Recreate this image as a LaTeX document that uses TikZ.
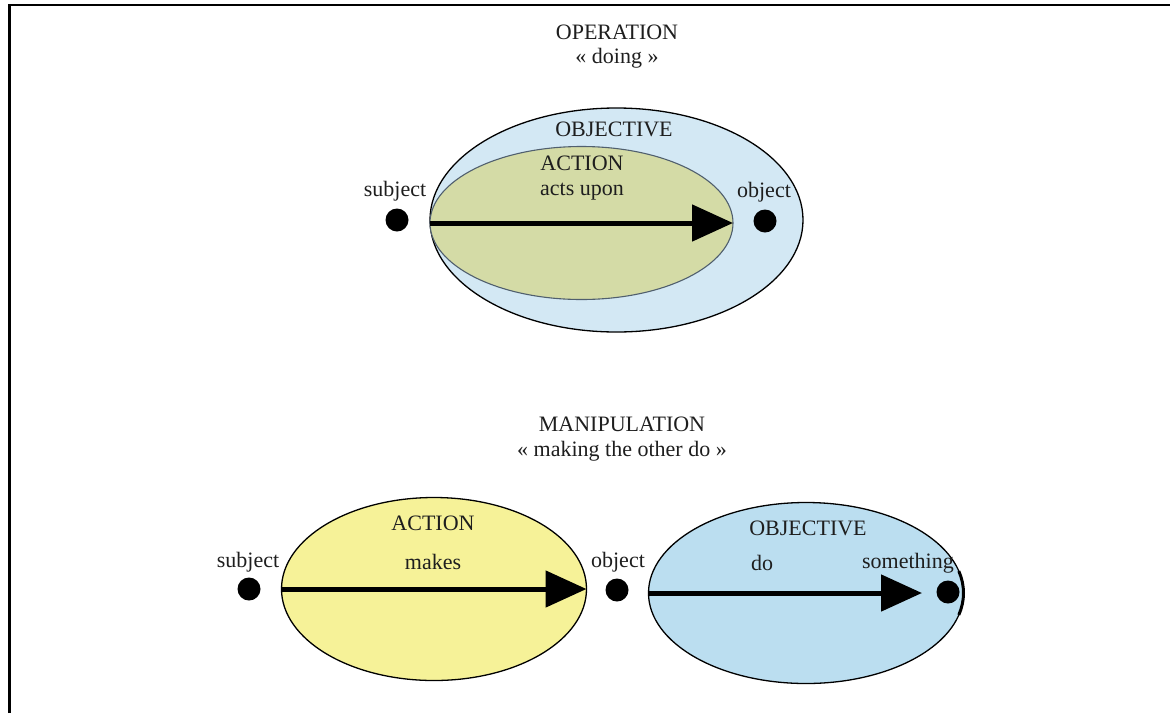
\documentclass[tikz,border=0pt]{standalone}
\usepackage{fontspec}
\setmainfont{Liberation Serif}
\usetikzlibrary{shapes.geometric,arrows.meta}

\definecolor{skyfill}{RGB}{211,232,244}
\definecolor{olivefill}{RGB}{212,219,166}
\definecolor{olivedraw}{RGB}{80,95,110}
\definecolor{lemonfill}{RGB}{246,242,152}
\definecolor{bluefill}{RGB}{187,222,240}
\definecolor{inkgray}{RGB}{30,30,30}

\tikzset{
  lbl/.style={font=\fontsize{22}{25}\selectfont, text=inkgray, inner sep=0pt},
  blob/.style={ellipse, draw=black, line width=1.3pt, inner sep=0pt, outer sep=0pt},
  dot/.style={circle, fill=black, minimum size=23pt, inner sep=0pt},
  push/.style={line width=5pt, -{Triangle[length=41pt,width=36pt]}}
}

\begin{document}
\begin{tikzpicture}[x=1pt,y=-1pt]
\useasboundingbox (0,0) rectangle (1170,713);

% Frame
\draw [line width=2.5pt] (9.5,713)--(9.5,5)--(1170,5);

% Operation: titles
\node [lbl] (optitle) at (617,32) {OPERATION};
\node [lbl] (opsub) at (617,58) {« doing »};

% Operation: objective holds the action
\node [blob, fill=skyfill, minimum width=373pt, minimum height=224pt] (goal) at (616.5,220) {};
\node [blob, draw=olivedraw, line width=1.1pt, fill=olivefill, minimum width=303pt, minimum height=153pt] (act) at (581.5,223) {};
\draw [push] (act.west)--(act.east);

\node [lbl] (goaltxt) at (614,129) {OBJECTIVE};
\node [lbl] (acttxt) at (582,163) {ACTION};
\node [lbl] (actverb) at (582,192) {acts upon};

\node [dot] (subj) at (397,220) {};
\node [dot] (obj) at (765,221) {};
\node [lbl] at (395,191) {subject};
\node [lbl] at (764,192) {object};

% Manipulation: titles
\node [lbl] (mantitle) at (622,424) {MANIPULATION};
\node [lbl] (mansub) at (622,451) {« making the other do »};

% Manipulation: action, then objective
\node [blob, fill=lemonfill, minimum width=305pt, minimum height=183pt] (make) at (434,589) {};
\draw [push] (make.west)--(make.east);
\node [lbl] (maketxt) at (433,523) {ACTION};
\node [lbl] (makeverb) at (433,562) {makes};

\node [blob, fill=bluefill, minimum width=315pt, minimum height=181pt] (aim) at (806,593) {};
\coordinate (aimtip) at (922,593);
\draw [push] (aim.west)--(aimtip);
\draw [line width=3pt] ([shift={(-14:157.5 and 90.5)}]aim.center) arc[start angle=-14, end angle=14, x radius=157.5, y radius=90.5];
\node [lbl] (aimtxt) at (808,528) {OBJECTIVE};
\node [lbl] (aimverb) at (762,563) {do};

\node [dot] (subj2) at (249,589) {};
\node [dot] (obj2) at (617,590) {};
\node [dot] (thing) at (948,592) {};
\node [lbl] at (248,562) {subject};
\node [lbl] at (618,562) {object};
\node [lbl] at (908,563) {something};

\end{tikzpicture}
\end{document}
